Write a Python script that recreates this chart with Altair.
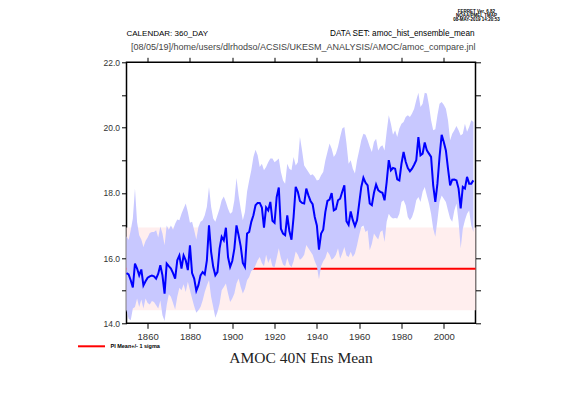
import altair as alt
import pandas as pd

years = list(range(1850, 2015))

amoc_mean = [
    15.54, 15.50, 15.32, 15.10, 15.83, 15.68, 15.47, 15.65, 15.16, 15.29,
    15.40, 15.44, 15.46, 15.44, 15.37, 15.52, 15.78, 15.47, 14.91, 15.83,
    15.75, 15.68, 15.54, 15.37, 15.93, 16.08, 15.68, 16.08, 15.93, 15.63,
    16.39, 15.54, 15.37, 15.00, 15.17, 15.47, 15.57, 15.50, 15.93, 17.00,
    16.19, 15.73, 15.47, 15.57, 16.29, 16.65, 16.54, 16.93, 16.03, 15.73,
    15.91, 16.29, 17.00, 16.70, 16.36, 15.85, 15.73, 16.75, 16.80, 17.11,
    17.31, 17.62, 17.69, 17.69, 17.55, 16.93, 17.55, 17.46, 17.72, 17.14,
    17.08, 17.87, 18.16, 16.90, 16.75, 16.70, 17.31, 16.83, 16.56, 17.26,
    18.18, 18.03, 17.75, 17.69, 17.67, 18.13, 17.92, 17.75, 17.65, 17.26,
    17.00, 16.26, 16.75, 16.87, 17.41, 17.75, 17.79, 17.99, 17.46, 17.50,
    17.77, 17.82, 18.03, 18.23, 17.13, 17.02, 17.43, 17.16, 16.98, 17.16,
    17.67, 18.18, 18.46, 18.31, 18.23, 17.67, 17.62, 18.00, 18.25, 18.08,
    18.03, 18.00, 17.77, 18.33, 19.00, 18.69, 18.76, 18.74, 18.41, 18.38,
    18.89, 19.25, 18.95, 18.76, 18.66, 18.74, 18.86, 19.00, 19.71, 19.15,
    19.20, 19.54, 19.30, 19.20, 19.10, 18.23, 17.72, 18.28, 19.10, 19.78,
    19.56, 19.30, 18.74, 18.23, 18.40, 18.41, 18.38, 18.13, 17.52, 18.18,
    18.13, 18.49, 18.28, 18.28, 18.38,
]

amoc_upper = [
    16.67, 16.55, 16.85, 17.21, 18.13, 17.10, 16.70, 16.57, 16.34, 16.52,
    16.63, 16.77, 16.80, 16.80, 16.85, 16.63, 16.97, 16.75, 16.39, 17.00,
    16.87, 17.00, 16.87, 17.05, 17.18, 17.16, 17.36, 17.52, 17.67, 17.41,
    17.08, 17.11, 16.85, 16.57, 16.95, 17.11, 17.16, 17.31, 17.57, 18.18,
    17.57, 17.21, 17.11, 17.31, 17.51, 17.77, 17.89, 17.72, 17.51, 17.36,
    17.41, 17.77, 18.45, 17.92, 17.51, 17.16, 17.41, 18.03, 18.38, 18.69,
    19.10, 19.32, 19.15, 18.79, 18.89, 18.69, 18.79, 18.94, 19.05, 19.05,
    18.94, 18.99, 19.05, 18.64, 18.38, 18.28, 18.89, 18.74, 18.69, 19.10,
    18.84, 18.94, 19.71, 19.30, 18.84, 18.74, 18.64, 18.54, 18.57, 18.49,
    18.38, 18.40, 18.54, 18.64, 18.99, 19.25, 19.51, 19.35, 19.10, 19.20,
    19.41, 19.71, 19.97, 20.02, 19.51, 18.89, 19.00, 18.74, 18.59, 19.00,
    19.30, 19.61, 19.81, 19.78, 19.61, 19.41, 19.25, 19.56, 19.66, 19.30,
    19.41, 19.46, 19.30, 19.87, 20.38, 20.12, 19.78, 19.92, 19.71, 19.97,
    20.12, 20.17, 20.32, 20.38, 20.32, 20.43, 20.58, 20.84, 21.07, 20.63,
    20.73, 21.07, 21.04, 20.68, 20.22, 19.92, 19.95, 20.38, 20.73, 20.78,
    20.70, 20.58, 20.22, 19.61, 19.81, 19.92, 20.05, 19.92, 19.76, 19.81,
    20.12, 19.87, 20.02, 20.22, 20.17,
]

amoc_lower = [
    14.40, 14.14, 14.09, 14.45, 14.50, 14.76, 14.50, 14.73, 14.45, 14.76,
    14.62, 14.58, 14.68, 14.65, 14.55, 14.45, 14.70, 14.25, 14.07, 14.55,
    14.89, 14.81, 14.62, 14.42, 14.81, 15.09, 15.01, 15.20, 14.96, 15.27,
    15.01, 14.76, 14.52, 14.32, 14.40, 14.50, 14.70, 14.96, 15.16, 15.32,
    14.81, 14.50, 14.17, 14.35, 14.60, 15.01, 15.11, 15.22, 14.91, 14.65,
    14.76, 14.91, 15.22, 15.37, 15.11, 14.91, 15.06, 15.32, 15.42, 15.60,
    15.65, 15.78, 15.93, 16.03, 15.85, 15.75, 16.10, 15.85, 16.00, 15.75,
    15.72, 16.00, 16.30, 16.00, 15.80, 15.75, 16.00, 15.80, 15.72, 15.90,
    16.20, 16.10, 15.95, 16.00, 16.10, 16.40, 16.30, 16.20, 16.10, 15.90,
    15.75, 15.35, 15.75, 15.90, 16.00, 16.20, 16.10, 15.95, 16.00, 16.10,
    16.30, 15.98, 16.14, 16.34, 16.08, 16.03, 16.19, 16.03, 16.14, 16.39,
    16.70, 16.95, 17.00, 16.80, 16.85, 16.24, 16.44, 16.75, 16.65, 16.57,
    16.80, 16.85, 16.49, 17.11, 17.36, 17.26, 17.21, 17.23, 17.21, 17.36,
    17.72, 17.77, 17.62, 17.26, 17.16, 17.26, 17.46, 17.77, 17.87, 17.72,
    18.03, 18.18, 17.92, 17.67, 17.36, 16.90, 16.65, 17.16, 17.72, 17.92,
    17.82, 17.72, 17.46, 17.21, 17.11, 17.46, 17.67, 17.11, 16.29, 16.90,
    17.16, 17.36, 17.46, 17.00, 16.80,
]

pi_mean = 15.67
pi_sigma = 1.27

x_domain = [1850, 2015]
y_domain = [14, 22]
x_ticks = [1860, 1880, 1900, 1920, 1940, 1960, 1980, 2000]
y_ticks = [14, 15, 16, 17, 18, 19, 20, 21, 22]

assert len(years) == len(amoc_mean) == len(amoc_upper) == len(amoc_lower)

df = pd.DataFrame({"year": years, "mean": amoc_mean,
                   "upper": amoc_upper, "lower": amoc_lower})
pi_df = pd.DataFrame({"x0": [x_domain[0]], "x1": [x_domain[1]],
                      "lo": [pi_mean - pi_sigma], "hi": [pi_mean + pi_sigma],
                      "m": [pi_mean]})

W, H = 349, 261
LABEL_FONT = "Liberation Sans Narrow, Liberation Sans, sans-serif"

xs = alt.Scale(domain=x_domain, nice=False, zero=False)
ys = alt.Scale(domain=y_domain, nice=False, zero=False)

common_axis = dict(grid=False, domain=False, tickColor="black", tickWidth=1,
                   tickSize=5, title=None, labelFont=LABEL_FONT,
                   labelColor="#333333")

band = alt.Chart(pi_df).mark_rect(color="#ffeeee").encode(
    x=alt.X("x0:Q", scale=xs, axis=alt.Axis(orient="bottom", values=x_ticks,
            format="d", labelFontSize=9.5, labelPadding=3, **common_axis)),
    x2="x1:Q",
    y=alt.Y("lo:Q", scale=ys, axis=alt.Axis(orient="left", values=y_ticks,
            labelExpr="datum.value % 2 == 0 ? format(datum.value, '.1f') : ''",
            labelFontSize=8.5, labelPadding=2, **common_axis)),
    y2="hi:Q",
)

pi_line = alt.Chart(pi_df).mark_rule(color="#ff0000", strokeWidth=2).encode(
    x=alt.X("x0:Q", scale=xs, axis=None),
    x2="x1:Q",
    y=alt.Y("m:Q", scale=ys, axis=None),
)

spread = alt.Chart(df).mark_area(color="#c8c8ff", opacity=1).encode(
    x=alt.X("year:Q", scale=xs, axis=alt.Axis(orient="top", values=x_ticks,
            labels=False, **common_axis)),
    y=alt.Y("lower:Q", scale=ys, axis=alt.Axis(orient="right", values=y_ticks,
            labels=False, **common_axis)),
    y2="upper:Q",
)

mean_line = alt.Chart(df).mark_line(color="#0000ff", strokeWidth=2).encode(
    x=alt.X("year:Q", scale=xs, axis=None),
    y=alt.Y("mean:Q", scale=ys, axis=None),
)

def label(text, x, y, **kw):
    return alt.Chart(pd.DataFrame({"t": [text]})).mark_text(**kw).encode(
        x=alt.value(x), y=alt.value(y), text="t:N")

texts = [
    label("CALENDAR: 360_DAY", 0, -28.5, align="left", baseline="middle",
          font="Liberation Sans", fontSize=8, color="black"),
    label("DATA SET: amoc_hist_ensemble_mean", 348, -28.5, align="right",
          baseline="middle", font="Liberation Sans", fontSize=8.2, color="black"),
    label("[08/05/19]/home/users/dlrhodso/ACSIS/UKESM_ANALYSIS/AMOC/amoc_compare.jnl",
          349, -15, align="right", baseline="middle", font="Liberation Sans",
          fontSize=9, color="#444444"),
    label("AMOC 40N Ens Mean", 174.5, 301, align="center", baseline="alphabetic",
          font="Liberation Serif", fontSize=15.5, color="#222222"),
    label("PI Mean+/- 1 sigma", -16, 284, align="left", baseline="middle",
          font="Liberation Sans", fontSize=5.5, fontWeight="bold", color="black"),
    label("FERRET Ver. 6.82", 350, -53, align="center", baseline="top",
          font="Liberation Sans", fontSize=4.5, fontWeight="bold", color="black"),
    label("NOAA/PMEL TMAP", 350, -49, align="center", baseline="top",
          font="Liberation Sans", fontSize=4.5, fontWeight="bold", color="black"),
    label("08-MAY-2019 14:20:53", 350, -45, align="center", baseline="top",
          font="Liberation Sans", fontSize=4.5, fontWeight="bold", color="black"),
]

legend_line = alt.Chart(pd.DataFrame({"k": [1]})).mark_rule(
    color="#ff0000", strokeWidth=2).encode(
    x=alt.value(-48.5), x2=alt.value(-21.5), y=alt.value(284))

chart = alt.layer(band, pi_line, spread, mean_line, legend_line, *texts).resolve_axis(
    x="independent", y="independent"
).properties(
    width=W, height=H, autosize=alt.AutoSizeParams(type="none"),
    padding={"left": 118.5, "top": 54.3, "right": 77.5, "bottom": 65.7},
).configure_view(stroke="black", strokeWidth=1.5)

chart.save("out.html", embed_options={"renderer": "svg", "actions": False})
